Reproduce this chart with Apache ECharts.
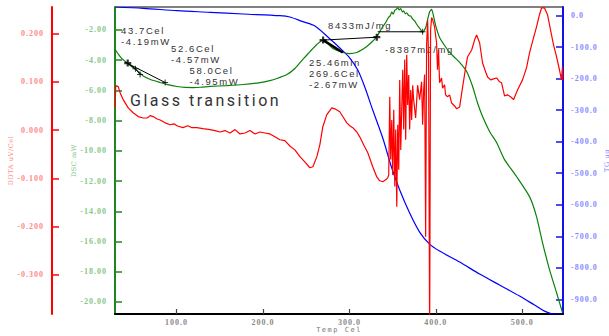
<!DOCTYPE html>
<html>
<head>
<meta charset="utf-8">
<script src="https://cdn.jsdelivr.net/npm/echarts@6/dist/echarts.min.js"></script>
<style>
  html, body { margin: 0; padding: 0; background: #fff; }
  #chart { width: 609px; height: 336px; }
  /* tracking for the instrument-style lettering */
  #chart text[style*="Liberation Serif"], #chart text[font-family*="Liberation Serif"] { letter-spacing: 1px; }
  #chart text[style*="DejaVu Serif"], #chart text[font-family*="DejaVu Serif"] { letter-spacing: 0.6px; }
  #chart text[style*="DejaVu Sans Mono"], #chart text[font-family*="DejaVu Sans Mono"] { letter-spacing: 1.5px; }
  #chart text[style*="Liberation Sans"], #chart text[font-family*="Liberation Sans"] { letter-spacing: 1.6px; }
  #chart text[style*="Roboto"], #chart text[font-family*="Roboto"] { letter-spacing: 2.5px; }
</style>
</head>
<body>
<div id="chart"></div>
<script>
// ---- DSC (mW) ----
const dscTemp = [29.2, 33, 37, 43.7, 48, 52.6, 58, 61.6, 70, 81.2, 90, 100.6, 110, 119.3, 128, 138.9,
  158.5, 177.0, 196.6, 208, 216.2, 227.8, 237, 246.2, 255, 262.4, 269.6, 275, 280.9, 292.4, 300.5,
  308.6, 315, 320.1, 326, 331.7, 338.6, 340.9, 343.2, 345.5, 347.3, 349.0, 350.7, 352.5, 354.2,
  355.9, 357.6, 359.4, 361.1, 362.8, 364.6, 366.3, 368.6, 370.9, 373.2, 375.5, 377.8, 380.1, 382.4,
  384.7, 388.2, 390.5, 392.8, 395.1, 397.4, 399.7, 404.3, 410.1, 415.9, 421.7, 427.5, 435.6, 442.5,
  448, 454.0, 462.1, 470.2, 479.4, 493.3, 508.3, 516.4, 523.3, 531.4, 539.5, 546.4];
const dscMw = [-3.29, -3.62, -3.90, -4.22, -4.42, -4.60, -4.85, -5.05, -5.28, -5.48, -5.62, -5.74,
  -5.80, -5.81, -5.79, -5.74, -5.68, -5.61, -5.48, -5.35, -5.21, -4.95, -4.55, -3.95, -3.40, -2.96,
  -2.67, -2.90, -3.22, -3.49, -3.56, -3.49, -3.30, -3.09, -2.80, -2.45, -1.77, -1.60, -1.38, -1.15,
  -1.05, -0.82, -0.95, -0.70, -0.64, -0.52, -0.68, -0.58, -0.80, -0.74, -0.93, -0.87, -1.05, -1.08,
  -1.28, -1.40, -1.62, -1.80, -1.98, -2.15, -1.85, -1.30, -0.80, -0.64, -1.10, -1.70, -2.50, -3.03,
  -3.49, -3.82, -4.15, -4.75, -5.74, -6.80, -7.73, -8.72, -9.45, -10.58, -11.70, -13.03, -14.35,
  -16.07, -17.86, -19.38, -20.70];

// ---- DDTA (uV/Cel) ----
const ddtaTemp = [29.2, 29.8, 32.7, 35.0, 38.5, 44.3, 50.0, 55.8, 61.6, 66.2, 69.6, 73.1, 77.7, 81.2,
  87.0, 92.7, 97.3, 100.6, 107.5, 113.3, 117.9, 123.7, 130.6, 138.9, 144.7, 150.4, 156.2, 162.0,
  167.8, 173.5, 179.3, 185.1, 190.8, 196.6, 202.4, 208.1, 213.9, 219.7, 225.4, 231.2, 237.0, 242.8,
  248.5, 254.3, 257.8, 262.4, 265.9, 269.3, 273.9, 279.7, 283.2, 288.9, 293.5, 297.0, 300.5, 303.9,
  308.6, 312.0, 316.6, 321.3, 327.0, 331.7, 335.1, 338.6, 342.0, 344.3, 345.5, 346.7, 347.8, 349.0,
  350.1, 351.3, 352.5, 353.6, 354.8, 355.9, 357.1, 358.2, 359.4, 360.5, 361.7, 362.8, 364.0, 365.1,
  366.3, 367.4, 368.6, 369.7, 370.9, 372.0, 373.2, 374.3, 376.6, 378.9, 381.2, 383.5, 384.7, 385.9,
  387.0, 388.2, 389.3, 390.5, 391.6, 392.8, 393.9, 395.1, 396.2, 398.5, 400.8, 401.9, 403.1, 404.3,
  406.6, 407.8, 410.1, 411.2, 413.5, 415.9, 418.2, 421.7, 424.0, 427.5, 431.0, 434.4, 436.7, 441.4,
  444.8, 447.1, 450.6, 454.0, 457.5, 459.8, 463.3, 466.7, 470.2, 473.7, 476.0, 479.4, 482.9, 486.4,
  489.8, 494.4, 500.2, 504.8, 508.3, 512.9, 516.4, 519.8, 522.2, 525.6, 529.1, 532.5, 536.0, 539.5,
  542.9, 545.2, 546.4, 546.7];
const ddtaVal = [0.046, 0.092, 0.090, 0.077, 0.063, 0.046, 0.036, 0.028, 0.025, 0.025, 0.030, 0.028,
  0.023, 0.021, 0.015, 0.011, 0.013, 0.009, 0.005, 0.009, 0.005, 0.005, 0.003, 0.001, -0.001, -0.004,
  -0.001, -0.006, 0.001, -0.008, -0.006, -0.001, -0.008, -0.004, -0.006, -0.008, -0.014, -0.020,
  -0.022, -0.033, -0.041, -0.055, -0.066, -0.078, -0.076, -0.055, -0.030, 0.007, 0.032, 0.046, 0.044,
  0.038, 0.025, 0.015, 0.009, 0.005, -0.004, -0.014, -0.031, -0.047, -0.076, -0.097, -0.105, -0.107,
  -0.103, -0.099, -0.093, 0.069, -0.061, 0.021, -0.093, 0.042, -0.117, 0.001, -0.159, 0.011, -0.082,
  0.104, -0.041, 0.042, 0.125, 0.001, 0.146, -0.020, 0.156, 0.052, 0.114, 0.001, 0.083, 0.021, 0.093,
  0.063, 0.025, 0.093, 0.063, 0.100, 0.011, 0.083, 0.115, -0.221, 0.176, 0.228, 0.146, -0.434, 0.208,
  0.233, 0.229, 0.214, 0.181, 0.125, 0.166, 0.098, 0.108, 0.087, 0.094, 0.073, 0.069, 0.073, 0.056,
  0.050, 0.044, 0.048, 0.090, 0.129, 0.152, 0.166, 0.187, 0.197, 0.181, 0.139, 0.121, 0.110, 0.104,
  0.106, 0.108, 0.100, 0.098, 0.071, 0.073, 0.069, 0.063, 0.083, 0.104, 0.129, 0.160, 0.191, 0.214,
  0.239, 0.253, 0.253, 0.239, 0.208, 0.177, 0.152, 0.125, 0.104, 0.131, 0.104];

// ---- TG (ug) ----
const tgTemp = [29.2, 61.7, 100.8, 138.9, 177.0, 219.7, 231.2, 246.2, 260.1, 275.1, 289.0, 300.5,
  309.7, 317.8, 327.0, 338.6, 349.0, 358.2, 369.7, 381.2, 392.8, 404.3, 427.5, 450.6, 473.7, 496.8,
  514.1, 525.6, 537.2, 546.4];
const tgUg = [27.6, 23.5, 15.9, 10.8, 5.4, 0.0, -4.1, -19.0, -32.7, -67.6, -102.5, -134.3, -172.4,
  -226.3, -299.4, -388.3, -483.5, -553.3, -626.3, -686.7, -724.8, -747.0, -781.9, -820.0, -854.9,
  -889.8, -918.4, -937.5, -946.7, -946.7];

// ---- axis ticks ----
const tempTicks = [100, 200, 300, 400, 500];
const dscTicks = [-2, -4, -6, -8, -10, -12, -14, -16, -18, -20];
const ddtaTicks = [0.2, 0.1, 0, -0.1, -0.2, -0.3];
const tgTicks = [0, -100, -200, -300, -400, -500, -600, -700, -800, -900];

// ---- analysis results on the DSC curve ----
const glassPoints = [[43.7, -4.19], [52.6, -4.57], [58.0, -4.95]];
const glassTangent = [[40.9, -4.13], [87.0, -5.48]];
const peakPoint = [269.6, -2.67];
const peakTime = 25.46;
const peakTangent = [[269.6, -2.67], [292.4, -3.49]];
const baselineA = [[269.6, -2.67], [331.7, -2.48]];
const baselineB = [[332.8, -2.12], [384.7, -2.12]];
const heatValues = [8433, -8387];

const zip = (a, b) => a.map((v, i) => [v, b[i]]);

const chart = echarts.init(document.getElementById('chart'), null, { renderer: 'svg' });

const labelFont = { fontFamily: 'Liberation Serif', fontWeight: 'bold', fontSize: 8 };
const nameFont = { fontFamily: 'DejaVu Serif', fontSize: 6.5 };
const annFont = '9.5px "Liberation Sans"';
const annColor = '#333';

const plusSymbol = 'path://M5,0L5,10M0,5L10,5';

function yAxisBase(color, labelColor, ticks, fmt) {
  return {
    type: 'value',
    splitLine: { show: false },
    axisLine: { show: true, onZero: false, lineStyle: { color, width: 2 } },
    axisTick: { show: true, inside: true, length: 7, customValues: ticks, lineStyle: { color, width: 1.5 } },
    axisLabel: { customValues: ticks, formatter: fmt, color: labelColor, ...labelFont },
    nameLocation: 'middle', nameRotate: 90, nameMoveOverlap: false,
    nameTextStyle: { color: labelColor, ...nameFont }
  };
}

const lineSeries = (data, width, extra) => Object.assign({
  type: 'line', yAxisIndex: 0, data, symbol: 'none', silent: true, z: 10,
  lineStyle: { color: '#000', width }, animation: false
}, extra || {});

const t = (text, x, y, font) => ({
  type: 'text', x, y, silent: true,
  style: { text, font: font || annFont, fill: annColor, align: 'left', verticalAlign: 'middle' }
});

chart.setOption({
  animation: false,
  backgroundColor: '#fff',
  grid: { left: 115, right: 46, top: 7, bottom: 22, show: true, borderColor: '#000', borderWidth: 1,
          containLabel: false, outerBoundsMode: 'none' },
  xAxis: {
    type: 'value', min: 29, max: 547,
    splitLine: { show: false },
    axisLine: { onZero: false, lineStyle: { color: '#000', width: 2 } },
    axisTick: { inside: true, length: 5, customValues: tempTicks, lineStyle: { color: '#444', width: 1.2 } },
    axisLabel: { customValues: tempTicks, formatter: v => v.toFixed(1), color: '#8a8a8a', margin: 4, ...labelFont },
    name: 'Temp Cel', nameLocation: 'middle', nameGap: 12, nameMoveOverlap: false,
    nameTextStyle: { color: '#777', fontFamily: 'DejaVu Sans Mono', fontSize: 7 }
  },
  yAxis: [
    Object.assign(yAxisBase('#1f861f', '#86c886', dscTicks, v => v.toFixed(2)), {
      position: 'left', min: -20.8, max: -0.48, name: 'DSC mW', nameGap: 38
    }),
    Object.assign(yAxisBase('#ff0000', '#ff8a8a', ddtaTicks, v => v.toFixed(3)), {
      position: 'left', offset: 63, min: -0.381, max: 0.255, name: 'DDTA uV/Cel', nameGap: 38
    }),
    Object.assign(yAxisBase('#1010ee', '#8a8aff', tgTicks, v => v.toFixed(1)), {
      position: 'right', min: -946.7, max: 27.6, name: 'TG ug', nameGap: 40
    })
  ],
  series: [
    { type: 'line', name: 'TG', yAxisIndex: 2, data: zip(tgTemp, tgUg), symbol: 'none', smooth: 0.3,
      lineStyle: { color: '#0000ff', width: 1.2 } },
    { type: 'line', name: 'DSC', yAxisIndex: 0, data: zip(dscTemp, dscMw), symbol: 'none', smooth: 0.2,
      lineStyle: { color: '#0a800a', width: 1.2 } },
    { type: 'line', name: 'DDTA', yAxisIndex: 1, data: zip(ddtaTemp, ddtaVal), symbol: 'none',
      lineStyle: { color: '#ff0000', width: 1.2 } },
    lineSeries(glassTangent, 1),
    lineSeries(glassPoints, 1),
    lineSeries(peakTangent, 2.5),
    lineSeries(baselineA, 1),
    lineSeries(baselineB, 1),
    { type: 'scatter', yAxisIndex: 0, z: 11, silent: true, symbol: plusSymbol, symbolSize: 6,
      itemStyle: { color: 'rgba(0,0,0,0)', borderColor: '#000', borderWidth: 1 },
      data: [glassPoints[1], glassPoints[2], glassTangent[1], baselineB[1]] },
    { type: 'scatter', yAxisIndex: 0, z: 11, silent: true, symbol: plusSymbol, symbolSize: 7,
      itemStyle: { color: 'rgba(0,0,0,0)', borderColor: '#000', borderWidth: 2.2 },
      data: [glassPoints[0], peakPoint, baselineA[1]] }
  ],
  graphic: [
    t(glassPoints[0][0].toFixed(1) + 'Cel', 121, 30),
    t(glassPoints[0][1].toFixed(2) + 'mW', 121, 41.5),
    t(glassPoints[1][0].toFixed(1) + 'Cel', 171, 48),
    t(glassPoints[1][1].toFixed(2) + 'mW', 171, 59),
    t(glassPoints[2][0].toFixed(1) + 'Cel', 189.5, 70),
    t(glassPoints[2][1].toFixed(2) + 'mW', 189.5, 81),
    t('Glass transition', 130, 100.5, '16px Roboto'),
    t(heatValues[0] + 'mJ/mg', 328, 25),
    t(heatValues[1] + 'mJ/mg', 385, 49),
    t(peakTime.toFixed(2) + 'min', 309, 62),
    t(peakPoint[0].toFixed(1) + 'Cel', 309, 73),
    t(peakPoint[1].toFixed(2) + 'mW', 309, 84)
  ]
});
</script>
</body>
</html>
